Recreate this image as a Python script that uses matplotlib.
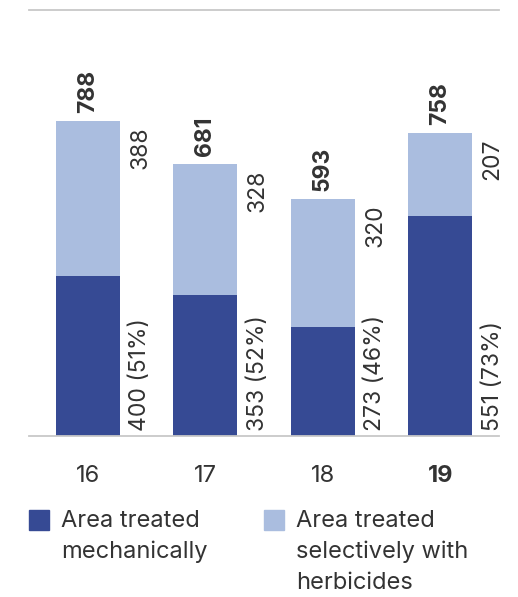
import numpy as np
import matplotlib
matplotlib.use("Agg")
import matplotlib.pyplot as plt
from matplotlib.patches import Rectangle

plt.rcParams['font.family'] = ['Inter', 'DejaVu Sans']

# data
years = ['16', '17', '18', '19']
mechanical = [400, 353, 273, 551]
herbicide = [388, 328, 320, 207]
totals = [788, 681, 593, 758]
mech_share = ['51%', '52%', '46%', '73%']

dark = '#364a94'
light = '#aabddf'
txt = '#333333'
fs = 16.5

W, H = 518, 597
fig = plt.figure(figsize=(W / 100, H / 100), dpi=100)
ax = fig.add_axes([29 / W, 1 - 436 / H, 470 / W, 426 / H])

x = np.arange(len(years))
bw = 0.545
ax.bar(x, mechanical, bw, color=dark, zorder=2)
ax.bar(x, herbicide, bw, bottom=mechanical, color=light, zorder=2)

for i in range(len(years)):
    ax.text(x[i], totals[i] + 20, str(totals[i]), rotation=90, ha='center', va='bottom',
            fontsize=fs, fontweight='bold', color=txt)
    ax.text(x[i] + 0.445, totals[i] - 15, str(herbicide[i]), rotation=90, ha='center', va='top',
            fontsize=fs, color=txt)
    ax.text(x[i] + 0.445, 12, f'{mechanical[i]} ({mech_share[i]})', rotation=90, ha='center',
            va='bottom', fontsize=fs, color=txt)

ax.set_xlim(-0.5, 3.5)
ax.set_ylim(0, 1065)
ax.set_yticks([])
ax.set_xticks(x)
ax.set_xticklabels(years, fontsize=17, color=txt)
ax.get_xticklabels()[-1].set_fontweight('bold')
ax.tick_params(axis='x', length=0, pad=21)
for s in ['left', 'right']:
    ax.spines[s].set_visible(False)
for s in ['top', 'bottom']:
    ax.spines[s].set_color('#c8c8c8')
    ax.spines[s].set_linewidth(1.3)

# legend
fig.add_artist(Rectangle((29 / W, 1 - 530 / H), 20 / W, 20 / H, transform=fig.transFigure,
                         color=dark))
fig.add_artist(Rectangle((264 / W, 1 - 530 / H), 20 / W, 20 / H, transform=fig.transFigure,
                         color=light))
fig.text(61 / W, 1 - 510 / H, 'Area treated\nmechanically', ha='left', va='top',
         fontsize=17, color=txt, linespacing=1.5)
fig.text(296 / W, 1 - 510 / H, 'Area treated\nselectively with\nherbicides', ha='left',
         va='top', fontsize=17, color=txt, linespacing=1.5)

fig.savefig('out.png', dpi=100)
